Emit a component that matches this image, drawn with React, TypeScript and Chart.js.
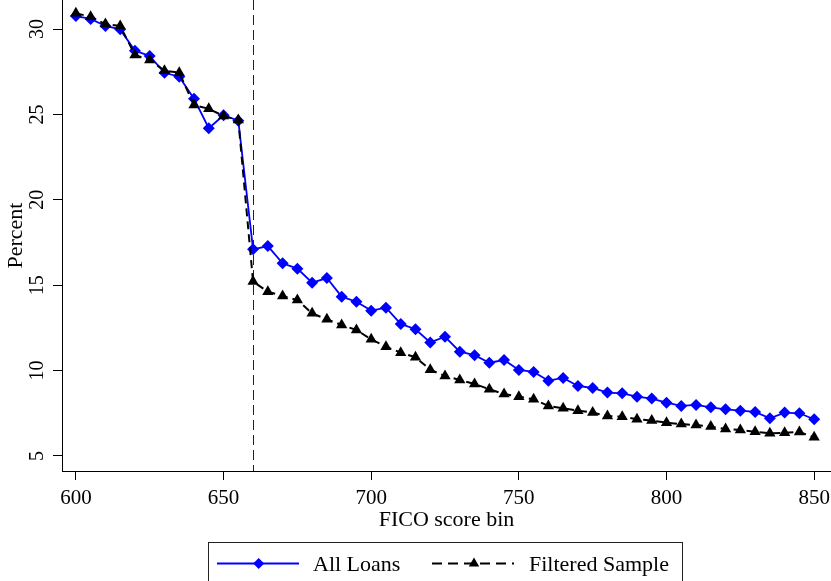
import React, { useEffect, useRef } from "react";
import { Chart, registerables } from "chart.js";

Chart.register(...registerables);

const ficoBins = [
  600, 605, 610, 615, 620, 625, 630, 635, 640, 645, 650, 655, 660, 665, 670, 675, 680,
  685, 690, 695, 700, 705, 710, 715, 720, 725, 730, 735, 740, 745, 750, 755, 760, 765,
  770, 775, 780, 785, 790, 795, 800, 805, 810, 815, 820, 825, 830, 835, 840, 845, 850,
];

const allLoans = [
  30.76, 30.59, 30.18, 29.98, 28.73, 28.42, 27.44, 27.21, 25.92, 24.19, 24.95, 24.63,
  17.1, 17.29, 16.28, 15.97, 15.15, 15.42, 14.33, 14.03, 13.51, 13.68, 12.73, 12.42,
  11.65, 11.98, 11.11, 10.9, 10.46, 10.62, 10.04, 9.92, 9.41, 9.57, 9.1, 8.98, 8.71,
  8.67, 8.47, 8.36, 8.12, 7.93, 7.99, 7.85, 7.73, 7.65, 7.58, 7.21, 7.54, 7.5, 7.15,
];

const filteredSample = [
  30.92, 30.72, 30.29, 30.18, 28.48, 28.19, 27.56, 27.44, 25.55, 25.33, 24.91, 24.67,
  15.21, 14.62, 14.37, 14.13, 13.35, 13.0, 12.67, 12.38, 11.83, 11.4, 11.05, 10.78,
  10.05, 9.68, 9.45, 9.22, 8.91, 8.63, 8.47, 8.32, 7.93, 7.79, 7.65, 7.54, 7.34, 7.3,
  7.15, 7.07, 6.95, 6.87, 6.81, 6.72, 6.58, 6.52, 6.42, 6.33, 6.36, 6.4, 6.09,
];

const xTicks = [600, 650, 700, 750, 800, 850];
const yTicks = [5, 10, 15, 20, 25, 30];
const cutoff = 660;
const seriesNames = ["All Loans", "Filtered Sample"];

const SERIF = "'Liberation Serif', 'DejaVu Serif', serif";
const BLUE = "#0000ff";
const BLACK = "#000000";

function zeroPadding(s: any) {
  s.paddingLeft = 0;
  s.paddingRight = 0;
  s.paddingTop = 0;
  s.paddingBottom = 0;
}

export default function App() {
  const ref = useRef<HTMLCanvasElement | null>(null);

  useEffect(() => {
    const canvas = ref.current;
    if (!canvas) return;

    const refLine = {
      id: "refLine",
      beforeDatasetsDraw(chart: any) {
        const { ctx, chartArea, scales } = chart;
        const x = Math.round(scales.x.getPixelForValue(cutoff)) + 0.5;
        ctx.save();
        ctx.strokeStyle = "#222";
        ctx.lineWidth = 1;
        ctx.setLineDash([10, 5]);
        ctx.beginPath();
        ctx.moveTo(x, chartArea.top);
        ctx.lineTo(x, chartArea.bottom);
        ctx.stroke();
        ctx.restore();
      },
    };

    const yLabels = {
      id: "yLabels",
      afterDraw(chart: any) {
        const { ctx, scales } = chart;
        const ys = scales.y;
        ctx.save();
        ctx.fillStyle = "#000";
        ctx.font = `20px ${SERIF}`;
        ctx.textAlign = "center";
        ctx.textBaseline = "middle";
        ys.ticks.forEach((t: any) => {
          const y = ys.getPixelForValue(t.value);
          ctx.save();
          ctx.translate(38, y);
          ctx.rotate(-Math.PI / 2);
          ctx.fillText(String(t.value), 0, 0);
          ctx.restore();
        });
        ctx.restore();
      },
    };

    const legendBox = {
      id: "legendBox",
      afterDraw(chart: any) {
        const { ctx } = chart;
        const ds = chart.data.datasets;
        ctx.save();
        ctx.strokeStyle = "#222";
        ctx.lineWidth = 1;
        ctx.strokeRect(208.5, 542.5, 474, 60);

        const yMid = 563.5;
        const a = ds.find((d: any) => d.label === seriesNames[0]);
        ctx.strokeStyle = a.borderColor;
        ctx.lineWidth = 2;
        ctx.beginPath();
        ctx.moveTo(217, yMid);
        ctx.lineTo(299, yMid);
        ctx.stroke();
        ctx.fillStyle = a.pointBackgroundColor;
        ctx.beginPath();
        const r = 5.5;
        ctx.moveTo(258.7, yMid - r);
        ctx.lineTo(258.7 + r, yMid);
        ctx.lineTo(258.7, yMid + r);
        ctx.lineTo(258.7 - r, yMid);
        ctx.closePath();
        ctx.fill();

        const b = ds.find((d: any) => d.label === seriesNames[1]);
        ctx.strokeStyle = b.borderColor;
        ctx.lineWidth = 2;
        ctx.setLineDash([10, 6]);
        ctx.beginPath();
        ctx.moveTo(432, yMid);
        ctx.lineTo(514, yMid);
        ctx.stroke();
        ctx.setLineDash([]);
        ctx.fillStyle = b.pointBackgroundColor;
        ctx.beginPath();
        const tr = 6;
        ctx.moveTo(474, yMid - tr);
        ctx.lineTo(474 + tr * 0.866, yMid + tr * 0.5);
        ctx.lineTo(474 - tr * 0.866, yMid + tr * 0.5);
        ctx.closePath();
        ctx.fill();

        ctx.fillStyle = "#000";
        ctx.font = `22px ${SERIF}`;
        ctx.textAlign = "left";
        ctx.textBaseline = "alphabetic";
        ctx.fillText(seriesNames[0], 313, 571);
        ctx.fillText(seriesNames[1], 529, 571);
        ctx.restore();
      },
    };

    const chart = new Chart(canvas, {
      type: "line",
      data: {
        datasets: [
          {
            label: seriesNames[0],
            data: ficoBins.map((x, i) => ({ x, y: allLoans[i] })),
            borderColor: BLUE,
            backgroundColor: BLUE,
            pointBackgroundColor: BLUE,
            pointBorderColor: BLUE,
            borderWidth: 1.8,
            pointStyle: "rectRot",
            pointRadius: 6,
            pointBorderWidth: 0,
            tension: 0,
            order: 1,
            clip: false,
          },
          {
            label: seriesNames[1],
            data: ficoBins.map((x, i) => ({ x, y: filteredSample[i] })),
            borderColor: BLACK,
            backgroundColor: BLACK,
            pointBackgroundColor: BLACK,
            pointBorderColor: BLACK,
            borderWidth: 2,
            borderDash: [8, 5],
            pointStyle: "triangle",
            pointRadius: 6.5,
            pointBorderWidth: 0,
            tension: 0,
            order: 0,
            clip: false,
          },
        ],
      },
      options: {
        responsive: false,
        animation: false,
        layout: { padding: 0, autoPadding: false },
        plugins: {
          legend: { display: false },
          tooltip: { enabled: false },
        },
        scales: {
          x: {
            type: "linear",
            min: 595.3,
            max: 855.7,
            afterFit: (s: any) => {
              s.height = 110;
              zeroPadding(s);
            },
            afterBuildTicks: (s: any) => {
              s.ticks = xTicks.map((v) => ({ value: v }));
            },
            ticks: {
              font: { family: SERIF, size: 21 },
              color: "#000",
              padding: 6,
              maxRotation: 0,
              autoSkip: false,
            },
            grid: {
              display: true,
              drawOnChartArea: false,
              drawTicks: true,
              tickLength: 9,
              color: "#000",
            },
            border: { display: true, color: "#000", width: 1 },
            title: {
              display: true,
              text: "FICO score bin",
              font: { family: SERIF, size: 22 },
              color: "#000",
              padding: { top: 0, bottom: 48 },
            },
          },
          y: {
            type: "linear",
            min: 4.12,
            max: 31.7,
            afterFit: (s: any) => {
              s.width = 62;
              zeroPadding(s);
            },
            afterBuildTicks: (s: any) => {
              s.ticks = yTicks.map((v) => ({ value: v }));
            },
            ticks: { display: false },
            grid: {
              display: true,
              drawOnChartArea: false,
              drawTicks: true,
              tickLength: 9,
              color: "#000",
            },
            border: { display: true, color: "#000", width: 1 },
            title: {
              display: true,
              text: "Percent",
              font: { family: SERIF, size: 22 },
              color: "#000",
              padding: { top: 3, bottom: 0 },
            },
          },
        },
      },
      plugins: [refLine, yLabels, legendBox],
    });

    return () => chart.destroy();
  }, []);

  return (
    <div style={{ position: "absolute", left: 0, top: 0, width: 831, height: 581, background: "#fff" }}>
      <canvas ref={ref} width={831} height={581} style={{ display: "block" }} />
    </div>
  );
}
